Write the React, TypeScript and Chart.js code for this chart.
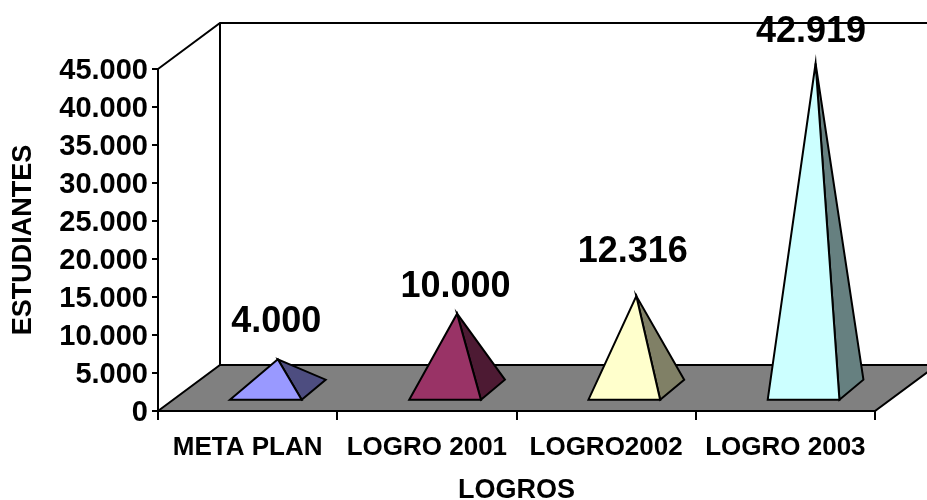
import React, { useEffect, useRef } from "react";
import { Chart, BarController, BarElement, CategoryScale, LinearScale } from "chart.js";

const categories = ["META PLAN", "LOGRO 2001", "LOGRO2002", "LOGRO 2003"];
const studentValues = [4000, 10000, 12316, 42919];
const valueLabels = ["4.000", "10.000", "12.316", "42.919"];
const frontColors = ["#9999FF", "#993366", "#FFFFCC", "#CCFFFF"];
const sideColors = ["#4D4D80", "#4D1A33", "#808066", "#668080"];
const yTickLabels: Record<number, string> = {
  0: "0", 5000: "5.000", 10000: "10.000", 15000: "15.000", 20000: "20.000",
  25000: "25.000", 30000: "30.000", 35000: "35.000", 40000: "40.000", 45000: "45.000",
};

const FONT = '"Liberation Sans", Arial, sans-serif';
const DEPTH_X = 62;
const DEPTH_Y = 46;
const LABEL_LIFT = [37, 27, 44, 31];
const LABEL_SHIFT = [-2, -2, -4, -5];

class PyramidController extends BarController {
  static id = "pyramid";
  static defaults = { ...BarController.defaults };
  static overrides = BarController.overrides;
  draw() {
    const chart = this.chart;
    const ctx = chart.ctx;
    const x = chart.scales.x;
    const y = chart.scales.y;
    const ds: any = this.getDataset();
    const data = ds.data as number[];
    const halfBase = x.width / data.length * 0.2;
    data.forEach((v, i) => {
      const cx = x.getPixelForValue(i);
      const zero = y.getPixelForValue(0);
      const frontCx = cx + 18.2;
      const frontY = zero - 11.3;
      const backDx = 24;
      const backDy = 20;
      const apexX = frontCx + backDx / 2;
      const apexY = y.getPixelForValue(v) - 11.3 - backDy / 2;
      ctx.save();
      ctx.lineWidth = 2;
      ctx.strokeStyle = "#000";
      ctx.lineJoin = "miter";
      ctx.fillStyle = ds.sideColors[i];
      ctx.beginPath();
      ctx.moveTo(frontCx + halfBase, frontY);
      ctx.lineTo(frontCx + halfBase + backDx, frontY - backDy);
      ctx.lineTo(apexX, apexY);
      ctx.closePath();
      ctx.fill();
      ctx.stroke();
      ctx.fillStyle = ds.backgroundColor[i];
      ctx.beginPath();
      ctx.moveTo(frontCx - halfBase, frontY);
      ctx.lineTo(frontCx + halfBase, frontY);
      ctx.lineTo(apexX, apexY);
      ctx.closePath();
      ctx.fill();
      ctx.stroke();
      ctx.restore();
    });
    data.forEach((v, i) => {
      const cx = x.getPixelForValue(i);
      const apexX = cx + 30.6;
      const apexY = y.getPixelForValue(v) - 21.3;
      ctx.save();
      ctx.fillStyle = "#000";
      ctx.font = `bold 36px ${FONT}`;
      ctx.textAlign = "center";
      ctx.textBaseline = "middle";
      ctx.fillText(ds.valueLabels[i], apexX + LABEL_SHIFT[i], apexY - LABEL_LIFT[i]);
      ctx.restore();
    });
  }
}

const wallsPlugin = {
  id: "walls",
  beforeDatasetsDraw(chart: any) {
    const { ctx, chartArea: a } = chart;
    ctx.save();
    ctx.lineWidth = 2;
    ctx.strokeStyle = "#000";
    ctx.fillStyle = "#808080";
    ctx.beginPath();
    ctx.moveTo(a.left, a.bottom);
    ctx.lineTo(a.left + DEPTH_X, a.bottom - DEPTH_Y);
    ctx.lineTo(a.right + DEPTH_X, a.bottom - DEPTH_Y);
    ctx.lineTo(a.right, a.bottom);
    ctx.closePath();
    ctx.fill();
    ctx.stroke();
    ctx.beginPath();
    ctx.moveTo(a.left, a.top);
    ctx.lineTo(a.left + DEPTH_X, a.top - DEPTH_Y);
    ctx.lineTo(a.right + DEPTH_X, a.top - DEPTH_Y);
    ctx.moveTo(a.left + DEPTH_X, a.top - DEPTH_Y);
    ctx.lineTo(a.left + DEPTH_X, a.bottom - DEPTH_Y);
    ctx.stroke();
    ctx.restore();
  },
};

Chart.register(PyramidController, BarElement, CategoryScale, LinearScale);

export default function App() {
  const ref = useRef<HTMLCanvasElement>(null);
  useEffect(() => {
    const chart = new Chart(ref.current as HTMLCanvasElement, {
      type: "pyramid" as any,
      data: {
        labels: categories,
        datasets: [
          {
            label: "ESTUDIANTES",
            data: studentValues,
            backgroundColor: frontColors,
            sideColors,
            valueLabels,
            clip: false,
          } as any,
        ],
      },
      plugins: [wallsPlugin],
      options: {
        responsive: false,
        animation: false,
        events: [],
        layout: { padding: { top: 69, right: 52, left: 0, bottom: 0 } },
        plugins: { legend: { display: false }, tooltip: { enabled: false } },
        scales: {
          x: {
            type: "category",
            offset: true,
            afterFit(s: any) { s.height = 89; },
            grid: { drawOnChartArea: false, tickLength: 9, offset: true, color: "#000", lineWidth: 2 },
            border: { display: true, color: "#000", width: 2 },
            ticks: { color: "#000", font: { family: FONT, weight: "bold", size: 26 }, autoSkip: false, maxRotation: 0, padding: 12 },
            title: { display: true, text: "LOGROS", color: "#000", font: { family: FONT, weight: "bold", size: 27 }, padding: { top: 0, bottom: -7 } },
          },
          y: {
            type: "linear",
            min: 0,
            max: 45000,
            afterFit(s: any) { s.width = 158; },
            grid: { drawOnChartArea: false, tickLength: 6, color: "#000", lineWidth: 2 },
            border: { display: true, color: "#000", width: 2 },
            ticks: {
              stepSize: 5000,
              color: "#000",
              font: { family: FONT, weight: "bold", size: 29 },
              padding: 4,
              labelOffset: 1.5,
              callback: (v: any) => yTickLabels[v],
            },
            title: { display: true, text: "ESTUDIANTES", color: "#000", font: { family: FONT, weight: "bold", size: 27 }, padding: { top: 7, bottom: 0 } },
          },
        },
      } as any,
    });
    return () => chart.destroy();
  }, []);
  return (
    <canvas
      ref={ref}
      width={927}
      height={500}
      style={{ position: "fixed", left: 0, top: 0, display: "block" }}
    />
  );
}
